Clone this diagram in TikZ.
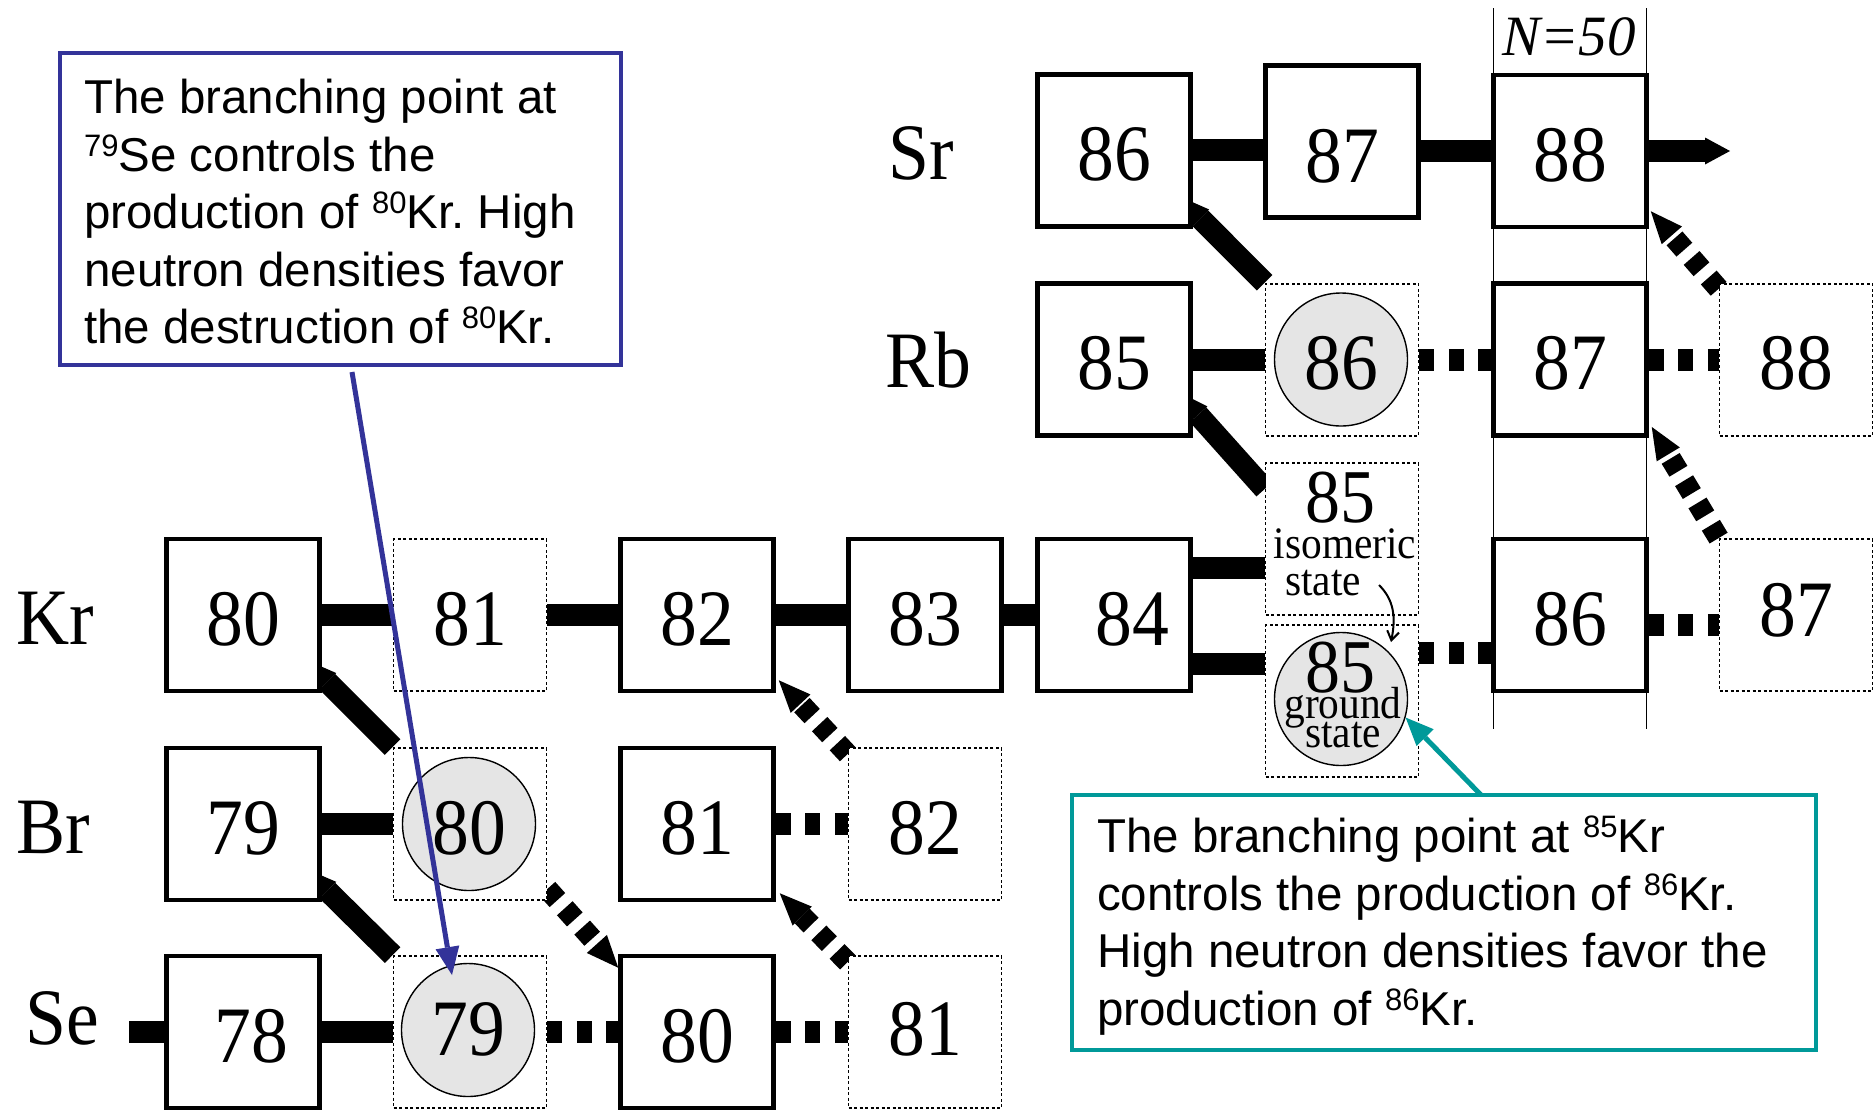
\documentclass[tikz,border=0pt]{standalone}
\usepackage{fontspec}
\setmainfont{Liberation Serif}
\newfontfamily\calloutfont{Liberation Sans}
\usepackage{graphicx}
\usetikzlibrary{arrows.meta,calc,backgrounds}
\definecolor{calloutblue}{RGB}{51,51,153}
\definecolor{calloutteal}{RGB}{0,153,153}
\definecolor{halogray}{RGB}{229,229,229}
\frenchspacing
\newcommand\bignum[1]{\scalebox{.92}[1]{\fontsize{80}{80}\selectfont #1}}
\newcommand\midnum[1]{\scalebox{.92}[1]{\fontsize{76}{76}\selectfont #1}}
\newcommand\smalltxt[1]{\scalebox{.92}[1]{\fontsize{45}{45}\selectfont #1}}
\newcommand\isosup[1]{\raisebox{15pt}{\fontsize{31}{31}\selectfont #1}}
\tikzset{
  nucbox/.style={rectangle, draw, line width=4.5pt, fill=white, minimum width=153pt, minimum height=152pt, inner sep=0pt, text height=60pt, text depth=0pt},
  unstbox/.style={rectangle, draw, line width=1.8pt, dash pattern=on 3pt off 2.5pt, fill=white, minimum width=153pt, minimum height=152pt, inner sep=0pt, text height=60pt, text depth=0pt},
  halo/.style={circle, draw, line width=1.4pt, fill=halogray, minimum size=133pt, inner sep=0pt, text height=60pt, text depth=0pt},
  plain/.style={inner sep=0pt},
  nbar/.style={line width=22pt},
  ndot/.style={line width=22pt, dash pattern=on 15pt off 14.5pt},
  betasolid/.style={line width=22pt, -{Triangle[width=25pt,length=32pt,line width=0pt]}},
  betadot/.style={line width=21pt, dash pattern=on 15pt off 11pt, -{Triangle[width=27pt,length=32pt,line width=0pt]}},
  callouttext/.style={anchor=north west, align=left, inner sep=0pt, font=\calloutfont\fontsize{47.5}{57.5}\selectfont},
  calloutarrow/.style={line width=5pt, -{Triangle[width=24pt,length=28pt,line width=0pt]}},
  nline/.style={line width=1.5pt}
}
\begin{document}
\begin{tikzpicture}[x=1pt,y=-1pt]
\useasboundingbox (0,0) rectangle (1874,1109);

% element labels
\node[plain] (lsr) at (921,153) {\bignum{Sr}};
\node[plain] (lrb) at (928,360) {\bignum{Rb}};
\node[plain] (lkr) at (55,618) {\bignum{Kr}};
\node[plain] (lbr) at (53,827) {\bignum{Br}};
\node[plain] (lse) at (62,1018) {\bignum{Se}};

% Sr
\node[nucbox] (sr86) at (1114,150.4) {\bignum{86}};
\node[nucbox, text height=81pt] (sr87) at (1342,141.5) {\bignum{87}};
\node[nucbox] (sr88) at (1570,151) {\bignum{88}};
% Rb
\node[nucbox] (rb85) at (1114,359.7) {\bignum{85}};
\node[unstbox] (rb86) at (1342,359.7) {};
\node[halo] (rb86c) at (1341,359.5) {\bignum{86}};
\node[nucbox] (rb87) at (1570,359.7) {\bignum{87}};
\node[unstbox] (rb88) at (1796,359.7) {\bignum{88}};
% Kr
\node[nucbox] (kr80) at (243,615) {\bignum{80}};
\node[unstbox] (kr81) at (470,615) {\bignum{81}};
\node[nucbox] (kr82) at (697,615) {\bignum{82}};
\node[nucbox] (kr83) at (925,615) {\bignum{83}};
\node[nucbox] (kr84) at (1114,615) {\hspace*{36pt}\bignum{84}};
\node[unstbox] (kr85i) at (1342,539) {};
\node[unstbox] (kr85g) at (1342,701) {};
\node[halo] (kr85gc) at (1341,699) {};
\node[nucbox] (kr86) at (1570,615) {\bignum{86}};
\node[unstbox, text height=42pt] (kr87) at (1796,615) {\bignum{87}};
% Br
\node[nucbox] (br79) at (243,824) {\bignum{79}};
\node[unstbox] (br80) at (470,824) {};
\node[halo] (br80c) at (469,824) {\bignum{80}};
\node[nucbox] (br81) at (697,824) {\bignum{81}};
\node[unstbox] (br82) at (925,824) {\bignum{82}};
% Se
\node[nucbox] (se78) at (243,1032) {\hspace*{16pt}\bignum{78}};
\node[unstbox] (se79) at (470,1032) {};
\node[halo, text height=50pt] (se79c) at (468,1030) {\bignum{79}};
\node[nucbox] (se80) at (697,1032) {\bignum{80}};
\node[unstbox, text height=46pt] (se81) at (925,1032) {\bignum{81}};

% Kr-85 texts
\node[plain, anchor=base] (isonum) at (1340,522) {\midnum{85}};
\node[plain, anchor=base] (isoword) at (1345,558) {\smalltxt{isomeric}};
\node[plain, anchor=base] (isostate) at (1323,595) {\smalltxt{state}};
\node[plain, anchor=base] (gnum) at (1340,692) {\midnum{85}};
\node[plain, anchor=base] (gword) at (1343,718) {\smalltxt{ground}};
\node[plain, anchor=base] (gstate) at (1343,747) {\smalltxt{state}};

\coordinate (sein) at (129,1032);
\coordinate (srout) at (1730,151);
\coordinate (isoarrow) at (1379,585);

\begin{pgfonlayer}{background}
\fill[white] (0,0) rectangle (1874,1109);
% neutron captures
\draw[nbar] (sr86.east) -- (sr87.west |- sr86.east);
\draw[nbar] (sr87.east |- sr88.west) -- (sr88.west);
\draw[nbar,-{Triangle[width=27pt,length=25pt,line width=0pt]}] (sr88.east) -- (srout);
\draw[nbar] (rb85.east) -- (rb86.west);
\draw[ndot] (rb86.east) -- (rb87.west);
\draw[ndot] (rb87.east) -- (rb88.west);
\draw[nbar] (kr80.east) -- (kr81.west);
\draw[nbar] (kr81.east) -- (kr82.west);
\draw[nbar] (kr82.east) -- (kr83.west);
\draw[nbar] (kr83.east) -- (kr84.west);
\draw[nbar] ($(kr84.east)+(0,-47)$) -- ($(kr85i.west)+(0,29)$);
\draw[nbar] ($(kr84.east)+(0,49)$) -- ($(kr85g.west)+(0,-37)$);
\draw[ndot] ($(kr85g.east)+(0,-48)$) -- ($(kr86.west)+(0,38)$);
\draw[ndot] ($(kr86.east)+(0,10)$) -- ($(kr87.west)+(0,10)$);
\draw[nbar] (br79.east) -- (br80.west);
\draw[ndot] (br81.east) -- (br82.west);
\draw[nbar] (sein) -- (se78.west);
\draw[nbar] (se78.east) -- (se79.west);
\draw[ndot] (se79.east) -- (se80.west);
\draw[ndot] (se80.east) -- (se81.west);
% beta decays
\draw[betasolid] (rb86.north west) -- ($(sr86.south east)+(-15,-33)$);
\draw[betasolid] ($(kr85i.north west)+(0,27)$) -- ($(rb85.south east)+(-16,-47)$);
\draw[betasolid] (br80.north west) -- ($(kr80.south east)+(-17,-34)$);
\draw[betasolid] (se79.north west) -- ($(br79.south east)+(-17,-34)$);
\draw[betadot] ($(br82.north west)+(0,7)$) -- ($(kr82.south east)+(3,-13)$);
\draw[betadot] ($(se81.north west)+(0,7)$) -- ($(br81.south east)+(4,-9)$);
\draw[betadot] ($(rb88.north west)+(0,6)$) -- ($(sr88.south east)+(2,-18)$);
\draw[betadot] (kr87.north west) -- ($(rb87.south east)+(3,-11)$);
\draw[betadot] ($(br80.south east)+(0,-12)$) -- ($(se80.north west)+(0,14)$);
\end{pgfonlayer}

% isomer to ground
\draw[line width=2pt, -{Straight Barb[length=9pt,width=12pt]}] (isoarrow) .. controls +(15,15) and +(5,-25) .. ($(kr85gc.center)+(50,-57)$);

% N=50
\draw[nline] ($(sr88.center)+(-76.5,-143)$) -- ($(kr86.center)+(-76.5,114)$);
\draw[nline] ($(sr88.center)+(76.5,-143)$) -- ($(kr86.center)+(76.5,114)$);
\node[plain, font=\fontsize{57}{57}\selectfont\itshape] (nfifty) at ($(sr88.center)+(-1,-114)$) {N=50};

% callouts
\node[draw=calloutblue, line width=3.5pt, fill=white, minimum width=561pt, minimum height=312pt, inner sep=0pt, outer sep=0pt, anchor=north west] (bluebox) at (60,53) {};
\node[callouttext] (bluetext) at (84,79.3) {The branching point at\\\isosup{79}Se controls the\\production of \isosup{80}Kr. High\\neutron densities favor\\the destruction of \isosup{80}Kr.};
\node[draw=calloutteal, line width=3.5pt, fill=white, minimum width=744pt, minimum height=255pt, inner sep=0pt, outer sep=0pt, anchor=north west] (tealbox) at (1072,795) {};
\node[callouttext] (tealtext) at (1097,815.8) {The branching point at \isosup{85}Kr\\controls the production of \isosup{86}Kr.\\High neutron densities favor the\\production of \isosup{86}Kr.};
\draw[calloutarrow, calloutblue] ($(bluebox.south west)+(292,7)$) -- ($(se79c.center)+(-16,-55)$);
\draw[calloutarrow, calloutteal] ($(tealbox.north west)+(409,0)$) -- (kr85gc.-16);
\end{tikzpicture}
\end{document}
